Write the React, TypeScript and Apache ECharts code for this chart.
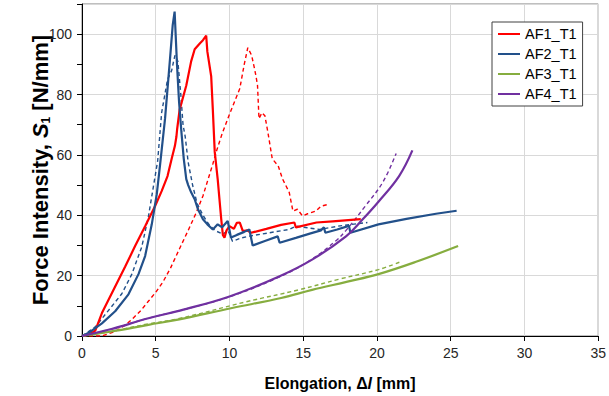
import React, { useEffect, useRef } from "react";
import * as echarts from "echarts";

const seriesNames = ["AF1_T1", "AF2_T1", "AF3_T1", "AF4_T1"];
const colors = ["#FF0000", "#22508A", "#86AD3F", "#7030A0"];

const af1Solid: number[][] = [
  [0, 0], [0.5, 0.5], [0.9, 1.8], [1.35, 7.6], [1.8, 12], [2.25, 16.4], [2.93, 23], [3.6, 29.8],
  [4.28, 36.4], [4.95, 43], [5.4, 48], [5.8, 53], [6.08, 58.7], [6.3, 63], [6.4, 66], [6.45, 68.5],
  [6.62, 75], [7.07, 83], [7.4, 91], [7.64, 95], [8.0, 97], [8.2, 98], [8.42, 99.5], [8.5, 94.2],
  [8.76, 86], [8.87, 75], [9.0, 61], [9.2, 52], [9.32, 45.3], [9.44, 38.7], [9.55, 33.5], [9.66, 32.6],
  [9.8, 35], [10.0, 36.4], [10.3, 35.5], [10.5, 37.5], [10.7, 37.6], [10.9, 34.8], [11.2, 35],
  [11.46, 34.2], [12.5, 35.5], [13.5, 36.8], [14.4, 37.6], [14.5, 36], [15.9, 37.6], [17, 38], [18.9, 38.7]
];
const af1Dashed: number[][] = [
  [0, 0], [1.35, 0], [2.25, 1.5], [2.9, 3.5], [3.38, 5.5], [4.0, 8.5], [4.5, 11.5], [5.0, 14.5],
  [5.5, 18], [6.0, 22.5], [6.62, 29], [7.2, 35], [7.75, 40.9], [8.2, 46.4], [8.87, 57], [9.1, 61],
  [9.5, 67], [10, 73.5], [10.7, 82], [11.0, 90], [11.24, 95.5], [11.5, 93], [11.7, 88.5], [11.8, 86],
  [11.9, 83], [12.0, 72], [12.2, 74], [12.4, 73], [12.6, 67.6], [12.9, 58.7], [13.3, 56.4], [13.6, 52],
  [14.05, 47.6], [14.3, 41.4], [14.6, 42], [14.95, 39.8], [15.3, 40.5], [15.85, 41.4], [16.2, 43], [16.6, 43.5]
];
const af2Solid: number[][] = [
  [0, 0], [0.5, 1.2], [1.35, 4.2], [2.25, 8.2], [3.15, 13.8], [3.83, 20.5], [4.28, 26.5], [4.73, 37],
  [5.07, 47], [5.3, 57], [5.63, 72], [5.97, 92], [6.15, 103], [6.28, 107.5], [6.44, 90], [6.58, 77.6],
  [6.74, 67.6], [6.9, 58.7], [7.07, 52], [7.2, 50], [7.4, 47.6], [7.64, 45.3], [7.86, 42], [8.2, 38.7],
  [8.5, 37], [8.87, 35.3], [9.2, 37], [9.5, 36], [9.88, 38.1], [10.1, 32.6], [10.5, 33.5], [11.0, 34.5],
  [11.35, 35.3], [11.57, 30], [12.4, 31.5], [13.27, 33], [13.4, 30.9], [14.5, 32.5], [15.5, 34],
  [16.2, 35], [16.4, 36], [16.5, 34.2], [17.3, 35.3], [18.1, 36.5], [18.2, 34.2], [20.1, 37], [22, 38.8],
  [24, 40.5], [25.4, 41.5]
];
const af2Dashed: number[][] = [
  [0, 0], [0.9, 3], [1.8, 8.5], [2.7, 14], [3.38, 20.5], [4.05, 29.5], [4.5, 39.5], [4.84, 49.5],
  [5.13, 58], [5.4, 74], [5.8, 85], [6.08, 88], [6.3, 93], [6.5, 91], [6.7, 80], [6.85, 70], [7.0, 66],
  [7.2, 57.5], [7.5, 50], [7.8, 44], [8.2, 40], [8.6, 37], [9.0, 35], [9.55, 33.7], [9.9, 35], [10.2, 31.4],
  [10.8, 32.5], [11.35, 33.1], [12.7, 34.2], [14.05, 35.3], [14.5, 36.4], [16.1, 35.3], [17.5, 36.5], [19.35, 37.6]
];
const af3Solid: number[][] = [
  [0, 0], [2, 1.5], [4.5, 3.7], [6.6, 5.5], [10.1, 9.2], [13.5, 12.6], [15.6, 15.3], [18, 18],
  [20.1, 20.5], [22.6, 24.5], [25.5, 29.8]
];
const af3Dashed: number[][] = [
  [0, 0], [2, 1.6], [4.5, 4], [6.6, 5.8], [11.1, 11.3], [14.7, 15.3], [17.5, 18.9], [20.1, 22], [21.6, 24.6]
];
const af4Solid: number[][] = [
  [0, 0], [2, 2.3], [4.5, 5.9], [6.7, 8.5], [10, 13.1], [13.4, 19.8], [15.6, 25.3], [17.9, 33],
  [19, 38.5], [20.1, 44.5], [21.5, 53], [22.4, 61.5]
];
const af4Dashed: number[][] = [
  [0, 0], [2, 2.3], [4.5, 5.9], [6.7, 8.5], [10, 13], [13.4, 19.6], [15.6, 25.5], [17.2, 31.5],
  [17.9, 35], [19.2, 43], [20.4, 51], [21.3, 60.5]
];

const xMin = 0, xMax = 35, xStep = 5;
const yMin = 0, yMax = 110, yStep = 20;

const solidData = [af1Solid, af2Solid, af3Solid, af4Solid];
const dashedData = [af1Dashed, af2Dashed, af3Dashed, af4Dashed];
const smoothing = [0, 0, 0.4, 0.4];

export default function App() {
  const ref = useRef<HTMLDivElement>(null);
  useEffect(() => {
    if (!ref.current) return;
    const chart = echarts.init(ref.current, undefined, { renderer: "svg" });
    const series: any[] = [];
    dashedData.forEach((d, i) => {
      series.push({
        type: "line", name: seriesNames[i] + " (b)", data: d, symbol: "none", smooth: smoothing[i],
        lineStyle: { color: colors[i], width: 1.4, type: [4, 3] }, itemStyle: { color: colors[i] }, z: 2,
      });
    });
    solidData.forEach((d, i) => {
      series.push({
        type: "line", name: seriesNames[i], data: d, symbol: "none", smooth: smoothing[i],
        lineStyle: { color: colors[i], width: 2.2 }, itemStyle: { color: colors[i] }, z: 3,
      });
    });
    chart.setOption({
      animation: false,
      backgroundColor: "#ffffff",
      grid: { left: 82, right: 9, top: 4, bottom: 60, show: true, borderColor: "#7f7f7f", borderWidth: 1 },
      legend: {
        data: seriesNames, orient: "vertical", left: 492, top: 22, icon: "rect", itemWidth: 22, itemHeight: 2, itemGap: 4,
        padding: [4, 6, 4, 6], borderColor: "#404040", borderWidth: 1, backgroundColor: "#ffffff",
        textStyle: { fontFamily: "Liberation Sans", fontSize: 14.5, color: "#000", lineHeight: 16 },
      },
      xAxis: {
        type: "value", min: xMin, max: xMax, interval: xStep,
        name: "{a|Elongation, Δ}{i|l}{a| [mm]}", nameLocation: "middle", nameGap: 39, nameMoveOverlap: false,
        nameTextStyle: {
          rich: {
            a: { fontFamily: "Liberation Sans", fontWeight: "bold", fontSize: 16, color: "#000" },
            i: { fontFamily: "Liberation Sans", fontWeight: "bold", fontStyle: "italic", fontSize: 16, color: "#000" },
          },
        },
        axisLine: { lineStyle: { color: "#000", width: 1 } },
        axisTick: { show: true, length: 5, lineStyle: { color: "#000" } },
        axisLabel: { fontFamily: "Liberation Sans", fontSize: 14, color: "#262626", margin: 10 },
        splitLine: { show: true, lineStyle: { color: "#d9d9d9", width: 1 } },
      },
      yAxis: {
        type: "value", min: yMin, max: yMax, interval: yStep,
        name: "{a|Force Intensity, }{i|S}{s|1}{a| [N/mm]}", nameLocation: "middle", nameGap: 30, nameRotate: 90,
        nameMoveOverlap: false,
        nameTextStyle: {
          rich: {
            a: { fontFamily: "Liberation Sans", fontWeight: "bold", fontSize: 22, color: "#000" },
            i: { fontFamily: "Liberation Sans", fontWeight: "bold", fontStyle: "italic", fontSize: 22, color: "#000" },
            s: { fontFamily: "Liberation Sans", fontWeight: "bold", fontSize: 12, color: "#000", verticalAlign: "bottom", padding: [11, 0, 0, 0] },
          },
        },
        axisLine: { show: true, lineStyle: { color: "#000", width: 1 } },
        axisTick: { show: true, length: 5, lineStyle: { color: "#000" } },
        minorTick: { show: true, splitNumber: 2, length: 5, lineStyle: { color: "#000" } },
        axisLabel: {
          fontFamily: "Liberation Sans", fontSize: 14, color: "#262626", margin: 10,
          formatter: (v: number) => (v > 100 ? "" : String(v)),
        },
        splitLine: { show: true, lineStyle: { color: "#d9d9d9", width: 1 } },
      },
      series,
    });
    return () => chart.dispose();
  }, []);
  return <div ref={ref} style={{ position: "fixed", left: 0, top: 0, width: 609, height: 396 }} />;
}
